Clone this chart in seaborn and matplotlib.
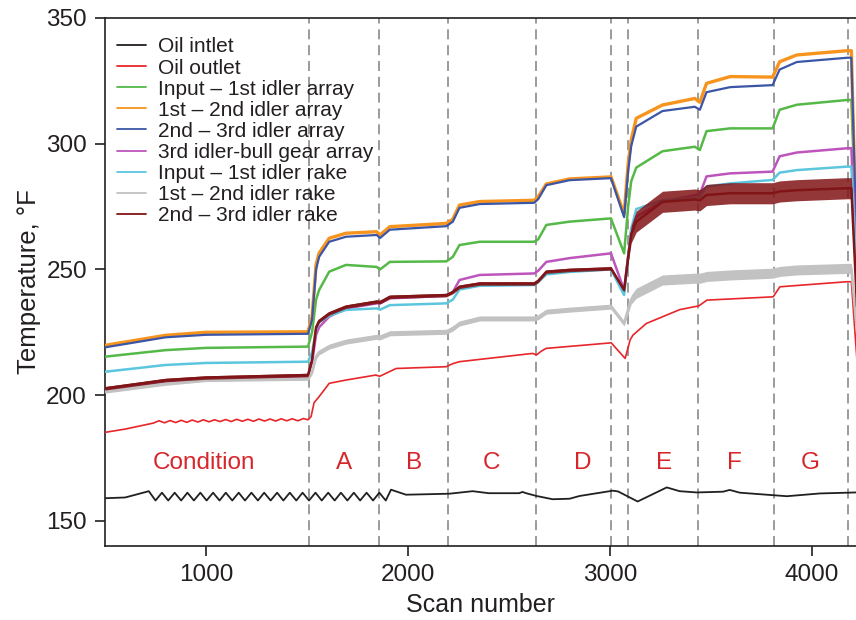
import matplotlib
matplotlib.use("Agg")
import matplotlib.pyplot as plt
from matplotlib.lines import Line2D
import seaborn as sns
import pandas as pd

# ---------------- data ----------------
# shared scan grid for the seven gear-array / rake thermocouples
grid_scan = [500, 800, 1000, 1505, 1525, 1545, 1560, 1610, 1693, 1845, 1862, 1910,
             2190, 2222, 2255, 2355, 2625, 2645, 2685, 2800, 3005, 3070, 3090, 3105,
             3130, 3260, 3420, 3445, 3478, 3595, 3805, 3840, 3925, 4175, 4195, 4235]

input_1st_array = [215.3, 217.9, 218.8, 219.3, 225, 238, 241.8, 249.1, 251.8, 251, 250, 253,
                   253.2, 255, 259.7, 261, 261, 262, 267.7, 269, 270.3, 256.4, 275, 285,
                   290.5, 297, 298.8, 297.5, 305, 306.1, 306.1, 313.5, 315.5, 317.4, 317.4, 230]
first_2nd_array = [219.8, 223.8, 225, 225.2, 231, 252, 256.5, 262.4, 264.4, 265, 263.7, 267,
                   268.3, 270, 275.6, 277, 277.5, 279, 284, 286, 286.8, 272, 292, 301.5,
                   310.1, 315.4, 318, 316.5, 324, 326.7, 326.5, 332.6, 335.3, 337, 337, 215]
second_3rd_array = [219, 223, 224, 224.4, 230, 250, 255, 261, 263, 263.7, 262.5, 265.8,
                    267.2, 269, 274.5, 276, 276.5, 278, 283.5, 285.5, 286.3, 270.8, 289, 299,
                    306.8, 313, 314.7, 313.5, 320.5, 322.5, 323.3, 329.5, 332.5, 334.2, 334.2, 220]
bull_gear_array = [202.5, 205.5, 206.5, 207.5, 213, 224, 227, 231.2, 234.5, 236.5, 236.5, 238.5,
                   239.5, 241, 245.8, 247.8, 248.4, 249.5, 253, 254.5, 256.4, 241.8, 255, 266,
                   271, 277, 279.5, 280, 287, 288.2, 288.9, 295, 296.5, 298.2, 298.2, 225]
input_1st_rake = [209.3, 212, 212.8, 213.3, 217, 226, 229, 231.5, 233.9, 234.5, 234, 235.8,
                  236.5, 238, 242, 243.5, 243.8, 245, 248, 249, 250, 239.8, 255, 266,
                  274, 277.5, 278.5, 279, 283, 284.2, 285.6, 288.5, 289.5, 290.9, 290.9, 225]
first_2nd_rake = [201.4, 204.5, 206, 206.5, 209, 215.3, 217, 219.3, 221.3, 223.2, 223, 224.6,
                  225.2, 226.5, 228.5, 230.5, 230.5, 231, 233.2, 234, 235.2, 228.5, 234, 238,
                  240.5, 245.8, 246.5, 246.5, 247.2, 247.8, 248.5, 249.2, 249.8, 250.4, 250.4, 215]
second_3rd_rake = [202.7, 206, 207, 208, 214, 227, 229.5, 232.5, 235.2, 237.2, 237, 239.1,
                   239.8, 241, 243.1, 244.4, 244.4, 245.5, 249.1, 249.8, 250.4, 241.8, 255, 264,
                   269, 276.9, 277.8, 277.5, 279.6, 280.3, 280.3, 281, 281.5, 282.3, 282.3, 215]
# scatter (noise) half-widths of the two noisiest rake traces, read on the same grid
first_2nd_rake_noise = [0.6, 0.6, 0.6, 0.6, 0.8, 1.0, 1.0, 1.0, 1.0, 1.0, 1.0, 1.0,
                        1.0, 1.0, 1.0, 1.0, 1.0, 1.0, 1.0, 1.0, 1.0, 1.0, 1.5, 1.8,
                        2.0, 2.0, 2.0, 2.0, 2.0, 2.0, 2.0, 2.0, 2.0, 2.0, 2.0, 0]
second_3rd_rake_noise = [0.7, 0.7, 0.7, 0.7, 0.7, 0.7, 0.7, 0.7, 0.7, 0.7, 0.7, 0.7,
                         0.7, 0.7, 0.7, 0.7, 0.7, 0.7, 0.7, 0.7, 0.7, 0.7, 2.5, 3.5,
                         4.2, 4.2, 4.2, 4.2, 4.2, 4.2, 4.2, 4.2, 4.2, 4.2, 4.2, 0]

outlet_scan = [500, 600, 717, 740, 767, 795, 822, 850, 877, 905, 932, 960, 987, 1015, 1042,
               1070, 1097, 1125, 1152, 1180, 1207, 1235, 1262, 1290, 1317, 1345, 1372, 1400,
               1427, 1455, 1482, 1505, 1520, 1535, 1560, 1610, 1693, 1841, 1860, 1941, 2188,
               2221, 2254, 2617, 2636, 2660, 2684, 3006, 3075, 3100, 3114, 3180, 3345, 3420,
               3440, 3480, 3808, 3841, 4172, 4195, 4235]
oil_outlet = [185.2, 186.5, 188.5, 188.9, 189.8, 189.0, 189.9, 189.1, 190.0, 189.2, 190.1,
              189.3, 190.2, 189.4, 190.2, 189.5, 190.3, 189.5, 190.4, 189.6, 190.4, 189.6,
              190.5, 189.7, 190.5, 189.7, 190.6, 189.8, 190.6, 189.8, 190.7, 190.2, 191.4,
              197, 199.4, 204.7, 206, 208, 207.5, 210.6, 211.3, 212.5, 213.3, 216.6, 216,
              217.5, 218.6, 220.8, 214.6, 222, 223.9, 228.5, 234, 235.2, 235.5, 237.8, 239.1,
              243.1, 245.1, 245.1, 200]

inlet_scan = [500, 600, 717, 750, 782, 813, 845, 877, 908, 940, 972, 1003, 1035, 1067, 1098,
              1130, 1162, 1193, 1225, 1257, 1288, 1320, 1352, 1383, 1415, 1447, 1478, 1510,
              1542, 1573, 1605, 1637, 1668, 1700, 1732, 1763, 1795, 1827, 1858, 1890, 1916,
              1990, 2100, 2205, 2320, 2400, 2550, 2567, 2585, 2636, 2716, 2800, 2850, 3014,
              3040, 3137, 3281, 3345, 3430, 3560, 3593, 3643, 3876, 4039, 4218]
oil_inlet = [159.0, 159.3, 161.8, 158.1, 161.2, 158.1, 161.2, 158.1, 161.2, 158.1, 161.2,
             158.1, 161.2, 158.1, 161.2, 158.1, 161.2, 158.1, 161.2, 158.1, 161.2, 158.1,
             161.2, 158.1, 161.2, 158.1, 161.2, 158.1, 161.2, 158.1, 161.2, 158.1, 161.2,
             158.1, 161.2, 158.1, 161.2, 158.1, 161.2, 158.1, 162.4, 160.4, 160.6, 160.8,
             161.8, 161.0, 161.0, 161.5, 161.0, 159.9, 158.6, 158.8, 159.9, 162.0, 161.7,
             157.7, 163.3, 161.8, 161.3, 161.6, 162.3, 161.2, 159.8, 160.9, 161.3]

condition_bounds = [1510, 1858, 2200, 2636, 3003, 3087, 3434, 3811, 4178]
condition_names = ["Condition", "A", "B", "C", "D", "E", "F", "G"]
condition_label_x = [990, 1684, 2031, 2413, 2864, 3266, 3618, 3990]
condition_label_y = 173

series_names = ["Oil intlet", "Oil outlet", "Input \u2013 1st idler array",
                "1st \u2013 2nd idler array", "2nd \u2013 3rd idler array",
                "3rd idler-bull gear array", "Input \u2013 1st idler rake",
                "1st \u2013 2nd idler rake", "2nd \u2013 3rd idler rake"]
series_colors = ["#231f20", "#e8262a", "#55b947", "#f7941d", "#3b56a6",
                 "#bd55bd", "#5cc6df", "#c2c2c2", "#801416"]
series_lw = [1.3, 1.2, 1.8, 2.4, 1.6, 1.8, 1.8, 2.0, 1.8]

# ---------------- figure ----------------
sns.set_theme(style="ticks")
plt.rcParams["font.family"] = ["Liberation Sans", "DejaVu Sans"]

fig = plt.figure(figsize=(8.56, 6.2), dpi=100)
ax = fig.add_axes([105 / 856, 1 - 546 / 620, 1 - 105 / 856, (546 - 18) / 620])

grid_series = [input_1st_array, first_2nd_array, second_3rd_array, bull_gear_array,
               input_1st_rake, first_2nd_rake, second_3rd_rake]
xs = [inlet_scan, outlet_scan] + [grid_scan] * 7
ys = [oil_inlet, oil_outlet] + grid_series

for b in condition_bounds:
    ax.axvline(b, color="#8a8a8a", lw=1.2, dashes=(6, 3.5), zorder=1)

for i, (name, x, y) in enumerate(zip(series_names, xs, ys)):
    df = pd.DataFrame({"scan": x, "temp": y})
    if name == series_names[7]:
        lo = [v - n for v, n in zip(y, first_2nd_rake_noise)]
        hi = [v + n for v, n in zip(y, first_2nd_rake_noise)]
        ax.fill_between(x, lo, hi, color=series_colors[i], lw=0, zorder=2 + i)
    if name == series_names[8]:
        lo = [v - n for v, n in zip(y, second_3rd_rake_noise)]
        hi = [v + n for v, n in zip(y, second_3rd_rake_noise)]
        ax.fill_between(x, lo, hi, color=series_colors[i], lw=0, alpha=0.85, zorder=2 + i)
    sns.lineplot(data=df, x="scan", y="temp", ax=ax, color=series_colors[i],
                 lw=series_lw[i], estimator=None, sort=False, zorder=2 + i, legend=False)

for name, lx in zip(condition_names, condition_label_x):
    ax.text(lx, condition_label_y, name, color="#d7262b", fontsize=17.5,
            ha="center", va="center")

ax.set_xlim(500, 4218)
ax.set_ylim(140, 350)
ax.set_xticks([1000, 2000, 3000, 4000])
ax.set_yticks([150, 200, 250, 300, 350])
ax.tick_params(axis="both", labelsize=17.5, length=7, width=1.2, direction="out",
               colors="#231f20", pad=6)
ax.set_xlabel("Scan number", fontsize=18, color="#231f20", labelpad=5)
ax.set_ylabel("Temperature, \u00b0F", fontsize=18.5, color="#231f20", labelpad=4)
for s in ["left", "bottom", "top"]:
    ax.spines[s].set_color("#231f20")
    ax.spines[s].set_linewidth(1.2)
ax.spines["right"].set_visible(False)

handles = [Line2D([0], [0], color=c, lw=1.3) for c in series_colors]
leg = ax.legend(handles, series_names, loc="upper left", bbox_to_anchor=(0.005, 0.979),
                frameon=False, fontsize=15, labelspacing=0.1, handlelength=1.4,
                handletextpad=0.55, borderaxespad=0.0)
for t in leg.get_texts():
    t.set_color("#231f20")

fig.savefig("out.png", dpi=100)
